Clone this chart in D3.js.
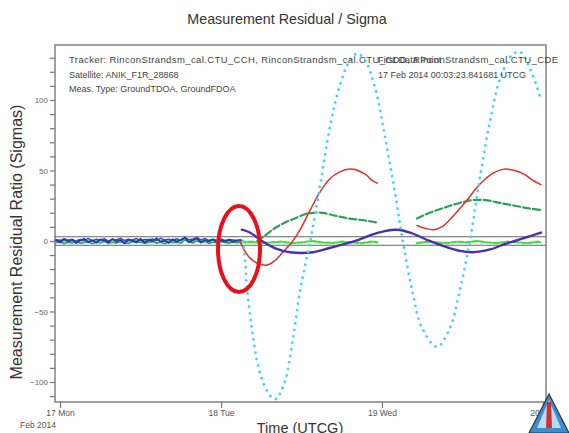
<!DOCTYPE html>
<html><head><meta charset="utf-8">
<script src="https://cdn.jsdelivr.net/npm/d3@7/dist/d3.min.js"></script>
<style>
html,body{margin:0;padding:0;background:#fff;}
svg{display:block;font-family:"Liberation Sans",Arial,sans-serif;}
</style></head>
<body><svg id="c" width="569" height="433"></svg>
<script>
// ---- Data (hours since 17 Feb 2014 00:00 UTCG, value in sigmas) ----
const title = "Measurement Residual / Sigma";
const xTickDays = ["17 Mon", "18 Tue", "19 Wed", "20 Thu"];
const yTickValues = [-100, -50, 0, 50, 100];

const cyanHours  = [27.3,27.6,27.9,28.6,29.5,30.6,31.6,32.2,33.5,34.7,35.8,37.3,38.8,40.2,41.7,43.2,44.3,45.5,47.0,48.4,49.9,51.1,52.5,54.0,56.2,58.1,59.6,61.1,62.6,64.1,65.6,67.4,68.6,70.1,71.7];
const cyanValues = [0,-15,-35,-62,-88,-104,-111,-112,-100,-70,-35,0,40,80,110,128,133,128,108,75,35,0,-35,-62,-75,-62,-35,0,45,85,115,132,134,122,100];

const redSeg1Hours  = [26.8,27.4,28.3,29.5,30.9,32.0,33.2,34.7,35.8,37.3,38.8,40.2,41.7,43.2,44.4,45.6,46.5,47.3];
const redSeg1Values = [0,-6,-12,-16,-17,-14,-8,0,8,22,35,44,49,51,50,47,43,41];
const redSeg2Hours  = [53.2,54.4,55.6,56.9,58.1,59.6,60.7,61.8,63.4,64.9,66.4,67.8,69.3,70.5,71.7];
const redSeg2Values = [11,9,8,10,15,23,29,36,44,49,51,50,47,43,40];

const greenSeg1Hours  = [29.4,30.6,32.0,33.5,35.0,36.5,37.7,39.1,41.0,43.0,44.7,46.2,47.3];
const greenSeg1Values = [0,4,9,13,16,19,20,20,18,16,15,14,13];
const greenSeg2Hours  = [53.2,55.1,56.9,58.8,60.4,61.5,63.4,65.6,67.8,70.1,71.7];
const greenSeg2Values = [16,20,23,26,28,29,29,27,25,23,22];

const blueHours  = [27.1,28.3,30.1,32.0,34.3,37.7,40.2,42.5,44.0,46.2,48.4,50.2,52.2,53.7,55.1,57.4,59.6,61.5,64.1,66.4,67.8,69.8,71.1,71.7];
const blueValues = [8,6,0,-5,-8,-8,-5,-2,0,4,7,8,6,3,0,-4,-7,-8,-6,-2,0,3,5,6];

const limeSeg1Hours  = [27.1,28.5,30.0,31.5,33.0,34.5,36.0,37.5,39.0,40.5,42.0,43.5,45.0,46.5,47.3];
const limeSeg1Values = [-1,-0.5,-1.5,-1,-0.5,-1.5,-1,0,-1,-1.5,-0.5,-1,-1.5,-0.5,-1];
const limeSeg2Hours  = [53.2,54.7,56.2,57.7,59.2,60.7,62.2,63.7,65.2,66.7,68.2,69.7,71.2,71.7];
const limeSeg2Values = [-1.5,-0.5,-1,-1.5,-0.5,-1,0,-1,-1.5,-0.5,-1,-1.5,-0.5,-1];

// pre-deviation residual noise (before ~18 Feb 03:00)
const noiseHours = [-0.6,0.0,0.6,1.2,1.8,2.4,3.0,3.6,4.2,4.8,5.4,6.0,6.6,7.2,7.8,8.4,9.0,9.6,10.2,10.8,11.4,12.0,12.6,13.2,13.8,14.4,15.0,15.6,16.2,16.8,17.4,18.0,18.6,19.2,19.8,20.4,21.0,21.6,22.2,22.8,23.4,24.0,24.6,25.2,25.8,26.4,27.0];
const noiseBlue  = [0.5,-1.0,1.2,-0.4,0.8,-1.5,0.3,1.6,-0.8,0.4,-1.2,1.0,0.2,-0.9,1.4,-0.3,0.7,-1.6,0.9,0.1,-0.7,1.5,-1.1,0.6,-0.2,1.8,-0.6,0.3,-1.4,1.1,-0.5,0.9,2.2,-0.8,0.4,1.9,-1.0,0.6,-0.3,1.2,-0.9,0.5,-0.4,0.8,-0.6,0.2,0.4];
const noiseGreen = [-1.2,-0.4,-1.8,-0.9,-1.5,-0.2,-1.6,-1.0,-0.5,-1.9,-0.8,-1.3,-0.3,-1.7,-0.9,-1.4,-0.6,-1.1,-1.8,-0.4,-1.2,-0.7,-1.6,-1.0,-0.3,-1.5,-0.8,-1.9,-0.5,-1.2,-0.9,-1.6,0.6,-0.7,-1.3,0.2,-1.1,-0.4,-1.7,-0.8,-1.4,-0.6,-1.0,-1.5,-0.7,-1.2,-0.9];
const noiseCyan  = [0.2,0.9,-0.3,0.6,-0.8,0.4,1.0,-0.5,0.7,-0.2,0.5,-0.9,0.8,0.3,-0.6,1.1,-0.1,0.4,-0.7,0.9,0.2,-0.4,0.6,1.2,-0.5,0.3,0.8,-0.3,1.0,-0.6,0.5,0.1,1.3,-0.2,0.7,1.0,0.4,-0.5,0.9,0.2,-0.3,0.7,0.1,-0.4,0.5,0.0,0.3];
const noisePurple= [1.1,0.3,1.6,0.6,1.3,-0.2,1.0,0.5,1.8,0.2,1.2,0.7,1.5,0.0,1.1,0.8,1.9,0.4,1.3,0.6,1.7,0.1,1.0,0.9,1.4,0.3,2.0,0.7,1.2,0.5,1.6,0.2,2.6,0.9,1.4,2.4,0.8,1.7,0.3,1.1,0.6,1.5,0.4,1.0,0.7,0.5,0.8];

const sigmaBand = [3, -3];

const textLines = ["Tracker: RinconStrandsm_cal.CTU_CCH, RinconStrandsm_cal.CTU_CDD, RinconStrandsm_cal.CTU_CDE",
                   "Satellite: ANIK_F1R_28868",
                   "Meas. Type: GroundTDOA, GroundFDOA"];
const rightLines = ["First Data Point", "17 Feb 2014 00:03:23.841681 UTCG"];

// ---- Layout ----
const svg = d3.select("#c");
const L = 55, R = 546, T = 45, B = 402;
const t0 = Date.UTC(2014,1,17,0,0,0);
const H = 3600*1000;
const x = d3.scaleUtc().domain([new Date(t0 - 0.75*H), new Date(t0 + 72.45*H)]).range([L, R]);
const y = d3.scaleLinear().domain([-114.2, 139]).range([B, T]);
const tx = h => x(new Date(t0 + h*H));

// title
svg.append("text").attr("x", 287).attr("y", 24).attr("text-anchor","middle")
  .attr("font-size", 14.3).attr("fill","#333").text(title);

// clip
svg.append("defs").append("clipPath").attr("id","pc").append("rect")
  .attr("x", L).attr("y", T).attr("width", R-L).attr("height", B-T);

// frame
svg.append("rect").attr("x",L).attr("y",T).attr("width",R-L).attr("height",B-T)
  .attr("fill","#fff").attr("stroke","#8a8a8a").attr("stroke-width",1.6);

// y axis ticks
const yAxis = d3.axisLeft(y).tickValues(d3.range(-110, 131, 10))
  .tickSize(5).tickFormat(d => yTickValues.includes(d) ? d3.format("d")(d) : "");
const gy = svg.append("g").attr("transform",`translate(${L},0)`).call(yAxis);
gy.select(".domain").remove();
gy.selectAll("line").attr("stroke","#777").attr("stroke-width",1.2);
gy.selectAll("text").attr("font-size",8).attr("fill","#666").attr("x",-7).attr("font-family","Liberation Sans, Arial, sans-serif");

// x axis ticks
const dayTicks = xTickDays.map((d,i) => new Date(t0 + i*24*H));
const xAxis = d3.axisBottom(x).tickValues(dayTicks).tickSize(6)
  .tickFormat((d,i) => xTickDays[i]);
const gx = svg.append("g").attr("transform",`translate(0,${B})`).call(xAxis);
gx.select(".domain").remove();
gx.selectAll("line").attr("stroke","#777").attr("stroke-width",1.2);
gx.selectAll("text").attr("font-size",8.5).attr("fill","#555").attr("dy","0.9em").attr("y",6)
  .attr("font-family","Liberation Sans, Arial, sans-serif");
svg.append("text").attr("x",20).attr("y",428).attr("font-size",8.5).attr("fill","#555").text("Feb 2014");

// axis labels
svg.append("text").attr("x",300).attr("y",433).attr("text-anchor","middle")
  .attr("font-size",14.5).attr("fill","#333").text("Time (UTCG)");
svg.append("text").attr("transform","translate(22,242) rotate(-90)").attr("text-anchor","middle")
  .attr("font-size",16).attr("fill","#333").text("Measurement Residual Ratio (Sigmas)");

const plot = svg.append("g").attr("clip-path","url(#pc)");

// sigma band lines
plot.selectAll(".band").data(sigmaBand).join("line")
  .attr("x1",L).attr("x2",R).attr("y1",d=>y(d)).attr("y2",d=>y(d))
  .attr("stroke","#666").attr("stroke-width",1.1);

const line = d3.line().x(d=>tx(d[0])).y(d=>y(d[1])).curve(d3.curveCatmullRom);
const lineL = d3.line().x(d=>tx(d[0])).y(d=>y(d[1]));
const zip = (a,b) => a.map((v,i)=>[v,b[i]]);

function draw(hours, vals, color, width, dash, gen) {
  plot.append("path").datum(zip(hours, vals)).attr("d", (gen||line))
    .attr("fill","none").attr("stroke",color).attr("stroke-width",width)
    .attr("stroke-dasharray",dash||null).attr("stroke-linecap","round");
}

// noise before deviation
draw(noiseHours, noiseGreen, "#2e9e55", 1.6, null, lineL);
draw(noiseHours, noiseCyan, "#3ad0e0", 1.4, null, lineL);
draw(noiseHours, noisePurple, "#5a36b8", 1.4, null, lineL);
draw(noiseHours, noiseBlue, "#1f3f9f", 1.8, null, lineL);

// series after deviation
draw(limeSeg1Hours, limeSeg1Values, "#3fe03f", 2.2, "5,2", lineL);
draw(limeSeg2Hours, limeSeg2Values, "#3fe03f", 2.2, "5,2", lineL);
draw(greenSeg1Hours, greenSeg1Values, "#2f9e5a", 2.2, "7,3");
draw(greenSeg2Hours, greenSeg2Values, "#2f9e5a", 2.2, "7,3");
draw(redSeg1Hours, redSeg1Values, "#e0302a", 1.5, null);
draw(redSeg2Hours, redSeg2Values, "#e0302a", 1.5, null);
draw(blueHours, blueValues, "#4b2fb0", 2.4, null);
draw(cyanHours, cyanValues, "#45d8e6", 2.8, "0.1,6.5");

// text annotations (drawn on top)
const ann = svg.append("g").attr("fill","#444");
ann.selectAll(".tl").data(textLines).join("text")
  .attr("x",69).attr("y",(d,i)=>63+i*14.5).text(d=>d)
  .attr("font-size",(d,i)=> i===0 ? 9.5 : 9)
  .attr("textLength",(d,i)=> i===0 ? 489 : null).attr("lengthAdjust","spacing");
ann.selectAll(".tr").data(rightLines).join("text")
  .attr("x",378).attr("y",(d,i)=>63+i*14.5).text(d=>d)
  .attr("font-size",9.2)
  .attr("textLength",(d,i)=> i===1 ? 148 : null).attr("lengthAdjust","spacingAndGlyphs");

// red ellipse highlight
svg.append("ellipse").attr("cx",239).attr("cy",249).attr("rx",21).attr("ry",43)
  .attr("fill","none").attr("stroke","#e8101a").attr("stroke-width",4);

// logo
const logo = svg.append("g").attr("transform","translate(549,414)");
logo.append("path").attr("d","M0,-20 L20,19 L-20,19 Z").attr("fill","#3b8fd0").attr("stroke","#333").attr("stroke-width",1.2);
logo.append("path").attr("d","M0,-14 L12,14 L-12,14 Z").attr("fill","#b8dcf2");
logo.append("path").attr("d","M-2,-12 L2,-12 L3,14 L-3,14 Z").attr("fill","#d23030");
</script></body></html>
